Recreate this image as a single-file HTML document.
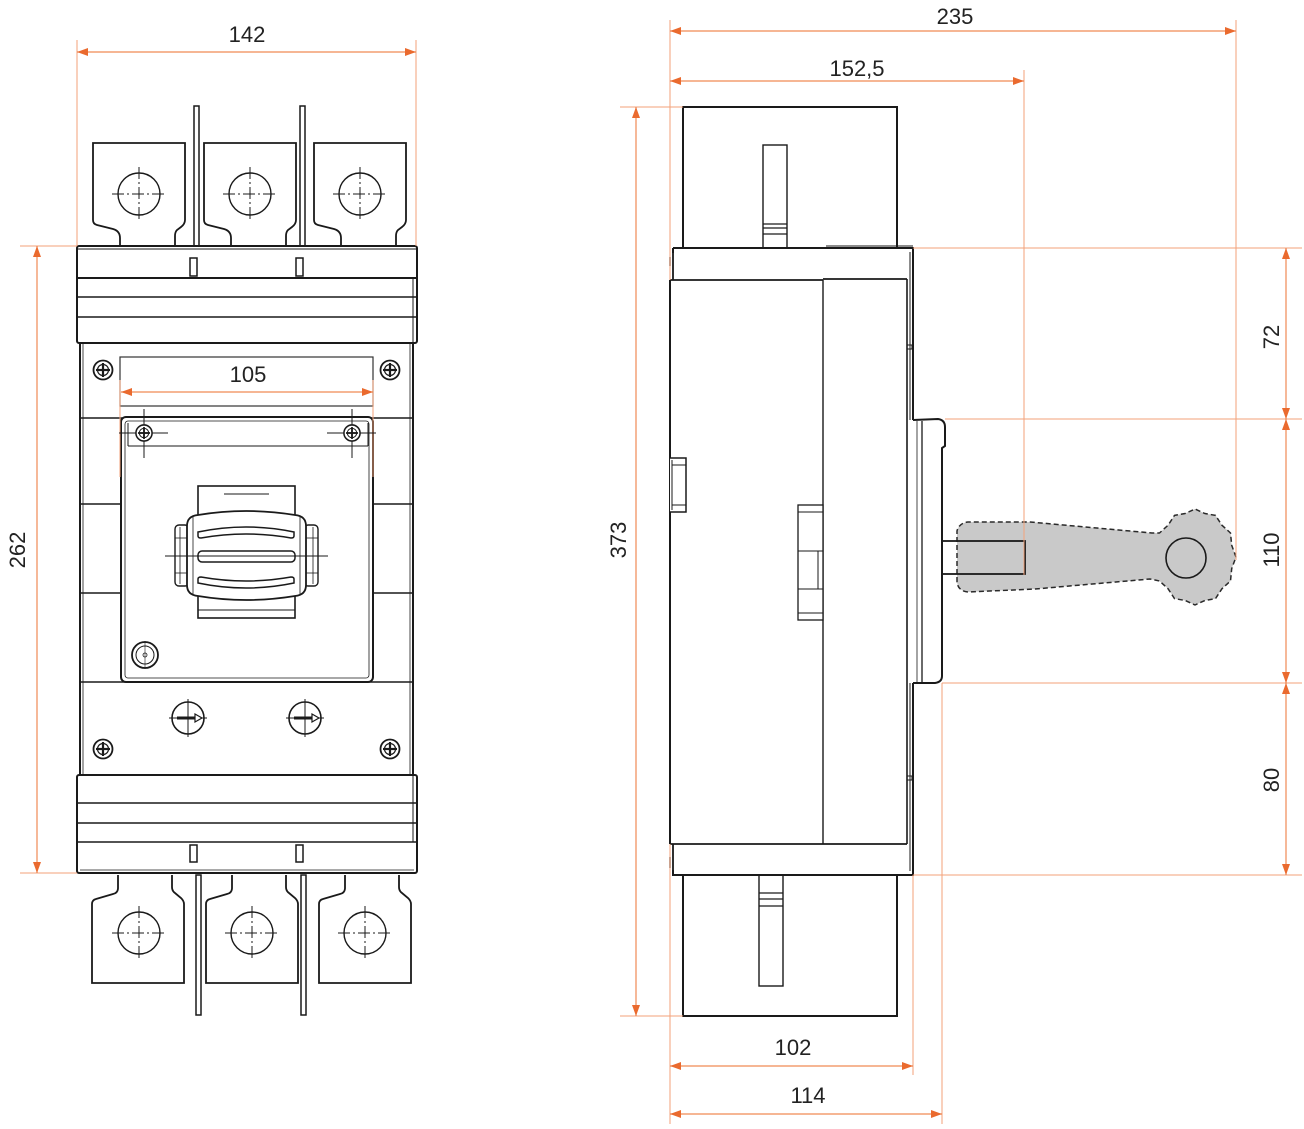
<!DOCTYPE html>
<html>
<head>
<meta charset="utf-8">
<style>
html,body{margin:0;padding:0;background:#fff;}
svg{display:block;}
text{font-family:"Liberation Sans",Arial,sans-serif;font-size:22px;fill:#222;}
</style>
</head>
<body>
<svg width="1304" height="1129" viewBox="0 0 1304 1129" xmlns="http://www.w3.org/2000/svg">
<defs>
  <g id="screw">
    <circle cx="0" cy="0" r="9.5" fill="#fff" stroke="#1a1a1a" stroke-width="1.8"/>
    <circle cx="0" cy="0" r="5.5" fill="none" stroke="#1a1a1a" stroke-width="1.2"/>
    <line x1="-7" y1="0" x2="7" y2="0" stroke="#1a1a1a" stroke-width="2.2"/>
    <line x1="0" y1="-7" x2="0" y2="7" stroke="#1a1a1a" stroke-width="2.2"/>
  </g>
  <g id="hole">
    <circle cx="0" cy="0" r="21" fill="none" stroke="#1a1a1a" stroke-width="1.4"/>
    <line x1="-27" y1="0" x2="27" y2="0" stroke="#1a1a1a" stroke-width="1" stroke-dasharray="12,3,2,3"/>
    <line x1="0" y1="-27" x2="0" y2="27" stroke="#1a1a1a" stroke-width="1" stroke-dasharray="12,3,2,3"/>
  </g>
  <path id="tabTop" d="M120,246 L120,238 Q120,231 113,229 L97,225 Q93,224 93,220 L93,143 L185,143 L185,220 Q185,224 181,227 L177,230 Q175,232 175,236 L175,246" fill="#fff" stroke="#1a1a1a" stroke-width="1.8"/>
  <path id="tabBot" d="M118,875 L118,888 Q118,893 113,894 L96,899 Q92,900 92,904 L92,983 L184,983 L184,904 Q184,901 181,898 L175,893 Q172,891 172,887 L172,875" fill="#fff" stroke="#1a1a1a" stroke-width="1.8"/>
  <g id="arrowCircle">
    <circle cx="0" cy="0" r="16" fill="#fff" stroke="#1a1a1a" stroke-width="1.6"/>
    <line x1="-19" y1="0" x2="19" y2="0" stroke="#1a1a1a" stroke-width="1"/>
    <line x1="0" y1="-19" x2="0" y2="19" stroke="#1a1a1a" stroke-width="1"/>
    <line x1="-11" y1="0" x2="7" y2="0" stroke="#1a1a1a" stroke-width="3"/>
    <path d="M7,-4 L14,0 L7,4 Z" fill="#fff" stroke="#1a1a1a" stroke-width="1.2"/>
  </g>
</defs>

<!-- ================= FRONT VIEW ================= -->
<!-- plates top -->
<rect x="194" y="106" width="5" height="140" fill="#fff" stroke="#1a1a1a" stroke-width="1.5"/>
<rect x="300" y="106" width="5" height="140" fill="#fff" stroke="#1a1a1a" stroke-width="1.5"/>
<!-- top tabs -->
<use href="#tabTop"/>
<use href="#tabTop" transform="translate(111,0)"/>
<use href="#tabTop" transform="translate(221,0)"/>
<use href="#hole" transform="translate(139,194)"/>
<use href="#hole" transform="translate(250,194)"/>
<use href="#hole" transform="translate(360,194)"/>

<!-- top cap -->
<rect x="77" y="246" width="340" height="97" rx="2" fill="#fff" stroke="#1a1a1a" stroke-width="2"/>
<line x1="77" y1="249" x2="417" y2="249" stroke="#1a1a1a" stroke-width="1"/>
<line x1="77" y1="278" x2="417" y2="278" stroke="#1a1a1a" stroke-width="2"/>
<line x1="77" y1="297" x2="417" y2="297" stroke="#1a1a1a" stroke-width="1.6"/>
<line x1="77" y1="317" x2="417" y2="317" stroke="#1a1a1a" stroke-width="1.6"/>
<line x1="413" y1="278" x2="413" y2="343" stroke="#1a1a1a" stroke-width="1"/>
<rect x="190" y="258" width="7" height="18" fill="#fff" stroke="#1a1a1a" stroke-width="1.5"/>
<rect x="296" y="258" width="7" height="18" fill="#fff" stroke="#1a1a1a" stroke-width="1.5"/>

<!-- main body -->
<rect x="80" y="343" width="333" height="432" fill="#fff" stroke="#1a1a1a" stroke-width="2"/>
<line x1="83" y1="343" x2="83" y2="775" stroke="#1a1a1a" stroke-width="0.8"/>
<line x1="410" y1="343" x2="410" y2="775" stroke="#1a1a1a" stroke-width="0.8"/>
<line x1="80" y1="418" x2="413" y2="418" stroke="#1a1a1a" stroke-width="1.6"/>
<line x1="80" y1="504" x2="121" y2="504" stroke="#1a1a1a" stroke-width="1.4"/>
<line x1="80" y1="593" x2="121" y2="593" stroke="#1a1a1a" stroke-width="1.4"/>
<line x1="373" y1="504" x2="413" y2="504" stroke="#1a1a1a" stroke-width="1.4"/>
<line x1="373" y1="593" x2="413" y2="593" stroke="#1a1a1a" stroke-width="1.4"/>
<line x1="80" y1="682" x2="413" y2="682" stroke="#1a1a1a" stroke-width="1.6"/>

<!-- label rect -->
<rect x="120" y="357" width="253" height="49" fill="#fff" stroke="#333" stroke-width="1.2"/>

<!-- handle plate -->
<rect x="121" y="417" width="252" height="265" rx="5" fill="#fff" stroke="#1a1a1a" stroke-width="2"/>
<rect x="125" y="421" width="244" height="257" rx="3" fill="none" stroke="#1a1a1a" stroke-width="0.8"/>
<line x1="128" y1="446" x2="368" y2="446" stroke="#1a1a1a" stroke-width="1"/>
<line x1="128" y1="423" x2="128" y2="446" stroke="#1a1a1a" stroke-width="1"/>
<line x1="368" y1="423" x2="368" y2="446" stroke="#1a1a1a" stroke-width="1"/>

<!-- 105 ext lines -->
<line x1="120" y1="380" x2="120" y2="477" stroke="#f3a27a" stroke-width="1"/>
<line x1="373" y1="380" x2="373" y2="477" stroke="#f3a27a" stroke-width="1"/>

<!-- plate screws with crosshair -->
<line x1="119" y1="433" x2="168" y2="433" stroke="#1a1a1a" stroke-width="1"/>
<line x1="144" y1="409" x2="144" y2="458" stroke="#1a1a1a" stroke-width="1"/>
<line x1="327" y1="433" x2="376" y2="433" stroke="#1a1a1a" stroke-width="1"/>
<line x1="352" y1="409" x2="352" y2="458" stroke="#1a1a1a" stroke-width="1"/>
<use href="#screw" transform="translate(144,433) scale(0.85)"/>
<use href="#screw" transform="translate(352,433) scale(0.85)"/>

<!-- handle -->
<rect x="198" y="486" width="97" height="132" fill="#fff" stroke="#1a1a1a" stroke-width="1.6"/>
<line x1="224" y1="494" x2="269" y2="494" stroke="#1a1a1a" stroke-width="1"/>
<line x1="198" y1="610" x2="295" y2="610" stroke="#1a1a1a" stroke-width="1"/>
<!-- side tabs -->
<rect x="175" y="525" width="14" height="61" rx="4" fill="#fff" stroke="#1a1a1a" stroke-width="1.4"/>
<line x1="180" y1="527" x2="180" y2="584" stroke="#1a1a1a" stroke-width="0.8"/>
<line x1="175" y1="538" x2="189" y2="538" stroke="#1a1a1a" stroke-width="0.8"/>
<line x1="175" y1="573" x2="189" y2="573" stroke="#1a1a1a" stroke-width="0.8"/>
<rect x="304" y="525" width="14" height="61" rx="4" fill="#fff" stroke="#1a1a1a" stroke-width="1.4"/>
<line x1="313" y1="527" x2="313" y2="584" stroke="#1a1a1a" stroke-width="0.8"/>
<line x1="304" y1="538" x2="318" y2="538" stroke="#1a1a1a" stroke-width="0.8"/>
<line x1="304" y1="573" x2="318" y2="573" stroke="#1a1a1a" stroke-width="0.8"/>
<!-- grip -->
<path d="M187,526 Q187,516 198,515 Q246,507 295,515 Q306,516 306,526 L306,585 Q306,595 295,596 Q246,604 198,596 Q187,595 187,585 Z" fill="#fff" stroke="#1a1a1a" stroke-width="1.8"/>
<line x1="193" y1="517" x2="193" y2="594" stroke="#1a1a1a" stroke-width="0.8"/>
<line x1="300" y1="517" x2="300" y2="594" stroke="#1a1a1a" stroke-width="0.8"/>
<path d="M198,532 Q246,522 294,532 L294,536 Q294,538 291,538 Q246,530 201,538 Q198,538 198,536 Z" fill="#fff" stroke="#1a1a1a" stroke-width="1.5"/>
<rect x="198" y="551" width="97" height="11" rx="4" fill="#fff" stroke="#1a1a1a" stroke-width="1.5"/>
<path d="M198,579 Q198,577 201,577 Q246,585 291,577 Q294,577 294,579 L294,583 Q246,593 198,583 Z" fill="#fff" stroke="#1a1a1a" stroke-width="1.5"/>
<line x1="165" y1="556" x2="328" y2="556" stroke="#1a1a1a" stroke-width="0.9"/>

<!-- knob -->
<circle cx="145" cy="655" r="13" fill="#fff" stroke="#1a1a1a" stroke-width="1.8"/>
<circle cx="145" cy="655" r="9" fill="none" stroke="#1a1a1a" stroke-width="1"/>
<circle cx="145" cy="655" r="2" fill="none" stroke="#1a1a1a" stroke-width="0.8"/>
<line x1="145" y1="641" x2="145" y2="669" stroke="#1a1a1a" stroke-width="0.6"/>

<!-- screws body -->
<use href="#screw" transform="translate(103,370)"/>
<use href="#screw" transform="translate(390,370)"/>
<use href="#screw" transform="translate(103,749)"/>
<use href="#screw" transform="translate(390,749)"/>

<!-- arrow circles -->
<use href="#arrowCircle" transform="translate(188,718)"/>
<use href="#arrowCircle" transform="translate(305,718)"/>

<!-- bottom cap -->
<rect x="77" y="775" width="340" height="98" rx="2" fill="#fff" stroke="#1a1a1a" stroke-width="2"/>
<line x1="77" y1="803" x2="417" y2="803" stroke="#1a1a1a" stroke-width="1.6"/>
<line x1="77" y1="823" x2="417" y2="823" stroke="#1a1a1a" stroke-width="1.6"/>
<line x1="77" y1="842" x2="417" y2="842" stroke="#1a1a1a" stroke-width="1.6"/>
<line x1="80" y1="870" x2="414" y2="870" stroke="#1a1a1a" stroke-width="0.8"/>
<line x1="413" y1="775" x2="413" y2="842" stroke="#1a1a1a" stroke-width="1"/>
<rect x="190" y="845" width="7" height="17" fill="#fff" stroke="#1a1a1a" stroke-width="1.5"/>
<rect x="296" y="845" width="7" height="17" fill="#fff" stroke="#1a1a1a" stroke-width="1.5"/>

<!-- bottom tabs + plates -->
<use href="#tabBot"/>
<use href="#tabBot" transform="translate(114,0)"/>
<use href="#tabBot" transform="translate(227,0)"/>
<rect x="196" y="875" width="5" height="140" fill="#fff" stroke="#1a1a1a" stroke-width="1.5"/>
<rect x="301" y="875" width="5" height="140" fill="#fff" stroke="#1a1a1a" stroke-width="1.5"/>
<use href="#hole" transform="translate(139,933)"/>
<use href="#hole" transform="translate(252,933)"/>
<use href="#hole" transform="translate(365,933)"/>

<!-- ================= SIDE VIEW ================= -->
<!-- top shroud -->
<rect x="683" y="107" width="214" height="141" fill="#fff" stroke="#1a1a1a" stroke-width="2"/>
<rect x="763" y="145" width="24" height="103" fill="#fff" stroke="#1a1a1a" stroke-width="1.4"/>
<line x1="763" y1="224" x2="787" y2="224" stroke="#1a1a1a" stroke-width="1.2"/>
<line x1="763" y1="228" x2="787" y2="228" stroke="#1a1a1a" stroke-width="1.2"/>
<line x1="763" y1="234" x2="787" y2="234" stroke="#1a1a1a" stroke-width="1.2"/>

<!-- bottom shroud -->
<rect x="683" y="875" width="214" height="141" fill="#fff" stroke="#1a1a1a" stroke-width="2"/>
<rect x="759" y="875" width="24" height="111" fill="#fff" stroke="#1a1a1a" stroke-width="1.4"/>
<line x1="759" y1="893" x2="783" y2="893" stroke="#1a1a1a" stroke-width="1.2"/>
<line x1="759" y1="899" x2="783" y2="899" stroke="#1a1a1a" stroke-width="1.2"/>
<line x1="759" y1="906" x2="783" y2="906" stroke="#1a1a1a" stroke-width="1.2"/>

<!-- main body side -->
<path d="M673,248 L913,248 L913,420 M913,683 L913,875 L673,875 L673,870 M673,253 L673,248" fill="none" stroke="#1a1a1a" stroke-width="2"/>
<line x1="826" y1="246" x2="913" y2="246" stroke="#1a1a1a" stroke-width="1"/>
<line x1="910" y1="252" x2="910" y2="420" stroke="#1a1a1a" stroke-width="1"/>
<line x1="910" y1="683" x2="910" y2="871" stroke="#1a1a1a" stroke-width="1"/>
<!-- cap rectangles -->
<path d="M673,252 L673,280 M670,280 L823,280 M823,279 L907,279" fill="none" stroke="#1a1a1a" stroke-width="1.8"/>
<path d="M670,844 L907,844 M673,844 L673,872" fill="none" stroke="#1a1a1a" stroke-width="1.8"/>
<line x1="670" y1="257" x2="670" y2="266" stroke="#1a1a1a" stroke-width="1.4"/>
<line x1="670" y1="857" x2="670" y2="868" stroke="#1a1a1a" stroke-width="1.4"/>
<!-- left edge -->
<line x1="670" y1="280" x2="670" y2="844" stroke="#1a1a1a" stroke-width="2"/>
<!-- divider -->
<line x1="823" y1="280" x2="823" y2="844" stroke="#1a1a1a" stroke-width="1.4"/>
<!-- right inner edge -->
<line x1="907" y1="279" x2="907" y2="844" stroke="#1a1a1a" stroke-width="1.6"/>
<rect x="907" y="345" width="5" height="4" fill="none" stroke="#1a1a1a" stroke-width="1"/>
<rect x="907" y="776" width="5" height="4" fill="none" stroke="#1a1a1a" stroke-width="1"/>

<!-- left clip -->
<path d="M670,458 L686,458 L686,512 L670,512" fill="#fff" stroke="#1a1a1a" stroke-width="1.5"/>
<line x1="672" y1="465" x2="686" y2="465" stroke="#1a1a1a" stroke-width="1"/>
<line x1="672" y1="505" x2="686" y2="505" stroke="#1a1a1a" stroke-width="1"/>
<line x1="672" y1="460" x2="672" y2="510" stroke="#1a1a1a" stroke-width="1"/>

<!-- middle clip -->
<rect x="798" y="505" width="25" height="115" fill="#fff" stroke="#1a1a1a" stroke-width="1.3"/>
<line x1="798" y1="512" x2="823" y2="512" stroke="#1a1a1a" stroke-width="1"/>
<line x1="798" y1="551" x2="823" y2="551" stroke="#1a1a1a" stroke-width="1"/>
<line x1="798" y1="589" x2="823" y2="589" stroke="#1a1a1a" stroke-width="1"/>
<line x1="798" y1="613" x2="823" y2="613" stroke="#1a1a1a" stroke-width="1"/>
<line x1="818" y1="551" x2="818" y2="589" stroke="#1a1a1a" stroke-width="1"/>

<!-- handle mount -->
<path d="M913,420 L938,419 Q945,420 945,427 L945,446 L942,448 L942,676 Q942,682 935,683 L913,683" fill="#fff" stroke="#1a1a1a" stroke-width="2"/>
<line x1="922" y1="421" x2="922" y2="682" stroke="#1a1a1a" stroke-width="1.3"/>
<line x1="917" y1="421" x2="917" y2="682" stroke="#1a1a1a" stroke-width="0.8"/>

<!-- grey handle -->
<path d="M957,582 L957,531 Q959,523 968,522 L1030,522 L1152,533 L1159.5,533 L1168.1,525.2 L1174.5,515.4 L1185.2,513.5 L1195,509 L1204.8,513.5 L1215.5,515.4 L1221.9,525.2 L1230.5,533 L1231.7,545.3 L1236,557 L1231.7,568.6 L1230.5,581 L1221.9,588.8 L1215.5,598.6 L1204.8,600.5 L1195,605 L1185.2,600.5 L1174.5,598.6 L1168.1,588.8 L1159.5,581 L1150,579 L1035,589 L968,592 Q958,591 957,582 Z" fill="#c9c9c9" stroke="#2a2a2a" stroke-width="1.5" stroke-dasharray="5,3" stroke-linejoin="round"/>
<circle cx="1186" cy="558" r="20" fill="none" stroke="#1a1a1a" stroke-width="1.6"/>
<rect x="942" y="541" width="83" height="33" fill="none" stroke="#1a1a1a" stroke-width="1.8"/>

<!-- ================= DIMENSIONS ================= -->
<g stroke="#f3a27a" stroke-width="1" fill="none">
  <!-- front ext -->
  <line x1="77" y1="40" x2="77" y2="246"/>
  <line x1="416" y1="40" x2="416" y2="246"/>
  <line x1="20" y1="246" x2="77" y2="246"/>
  <line x1="20" y1="873" x2="77" y2="873"/>
  <!-- side ext -->
  <line x1="670" y1="20" x2="670" y2="280"/>
  <line x1="670" y1="844" x2="670" y2="1124"/>
  <line x1="1236" y1="20" x2="1236" y2="560"/>
  <line x1="1024" y1="70" x2="1024" y2="575"/>
  <line x1="620" y1="107" x2="683" y2="107"/>
  <line x1="620" y1="1016" x2="683" y2="1016"/>
  <line x1="913" y1="248" x2="1302" y2="248"/>
  <line x1="945" y1="419" x2="1302" y2="419"/>
  <line x1="942" y1="683" x2="1302" y2="683"/>
  <line x1="913" y1="875" x2="1302" y2="875"/>
  <line x1="913" y1="875" x2="913" y2="1075"/>
  <line x1="942" y1="683" x2="942" y2="1124"/>
</g>
<g stroke="#f08a55" stroke-width="1.2" fill="none">
  <line x1="77" y1="52" x2="416" y2="52"/>
  <line x1="121" y1="392" x2="373" y2="392"/>
  <line x1="37" y1="246" x2="37" y2="873"/>
  <line x1="636" y1="107" x2="636" y2="1016"/>
  <line x1="670" y1="31" x2="1236" y2="31"/>
  <line x1="670" y1="81" x2="1024" y2="81"/>
  <line x1="1286" y1="248" x2="1286" y2="875"/>
  <line x1="670" y1="1066" x2="913" y2="1066"/>
  <line x1="670" y1="1114" x2="942" y2="1114"/>
</g>
<g fill="#ea6a2e">
  <!-- horizontal arrows -->
  <path d="M77,52 l11,-4 l0,8 z"/><path d="M416,52 l-11,-4 l0,8 z"/>
  <path d="M121,392 l11,-4 l0,8 z"/><path d="M373,392 l-11,-4 l0,8 z"/>
  <path d="M670,31 l11,-4 l0,8 z"/><path d="M1236,31 l-11,-4 l0,8 z"/>
  <path d="M670,81 l11,-4 l0,8 z"/><path d="M1024,81 l-11,-4 l0,8 z"/>
  <path d="M670,1066 l11,-4 l0,8 z"/><path d="M913,1066 l-11,-4 l0,8 z"/>
  <path d="M670,1114 l11,-4 l0,8 z"/><path d="M942,1114 l-11,-4 l0,8 z"/>
  <!-- vertical arrows -->
  <path d="M37,246 l-4,11 l8,0 z"/><path d="M37,873 l-4,-11 l8,0 z"/>
  <path d="M636,107 l-4,11 l8,0 z"/><path d="M636,1016 l-4,-11 l8,0 z"/>
  <path d="M1286,248 l-4,11 l8,0 z"/><path d="M1286,419 l-4,-11 l8,0 z"/>
  <path d="M1286,419 l-4,11 l8,0 z"/><path d="M1286,683 l-4,-11 l8,0 z"/>
  <path d="M1286,683 l-4,11 l8,0 z"/><path d="M1286,875 l-4,-11 l8,0 z"/>
</g>

<!-- labels -->
<text x="247" y="42" text-anchor="middle">142</text>
<text x="248" y="382" text-anchor="middle">105</text>
<text x="955" y="24" text-anchor="middle">235</text>
<text x="857" y="76" text-anchor="middle">152,5</text>
<text x="793" y="1055" text-anchor="middle">102</text>
<text x="808" y="1103" text-anchor="middle">114</text>
<text transform="translate(17,550) rotate(-90)" x="0" y="8" text-anchor="middle">262</text>
<text transform="translate(618,540) rotate(-90)" x="0" y="8" text-anchor="middle">373</text>
<text transform="translate(1271,337) rotate(-90)" x="0" y="8" text-anchor="middle">72</text>
<text transform="translate(1271,550) rotate(-90)" x="0" y="8" text-anchor="middle">110</text>
<text transform="translate(1271,780) rotate(-90)" x="0" y="8" text-anchor="middle">80</text>
</svg>
</body>
</html>
